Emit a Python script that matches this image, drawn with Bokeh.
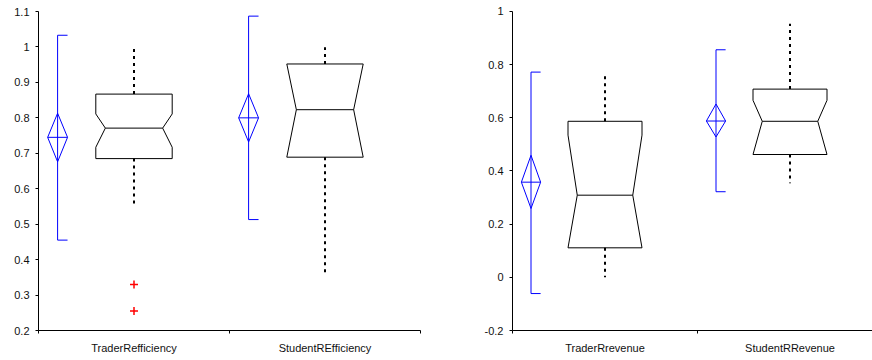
from bokeh.plotting import figure
from bokeh.layouts import row
from bokeh.models import FixedTicker, NumeralTickFormatter, Range1d
from bokeh.embed import file_html
from bokeh.resources import INLINE

# ---------------- data ----------------
eff_categories = ["TraderRefficiency", "StudentREfficiency"]
eff_q1 = [0.685, 0.689]
eff_median = [0.771, 0.823]
eff_q3 = [0.867, 0.952]
eff_notch_lo = [0.717, 0.689]
eff_notch_hi = [0.811, 0.952]
eff_whisker_lo = [0.555, 0.358]
eff_whisker_hi = [0.995, 0.999]
eff_outlier_group = [0, 0]
eff_outlier_values = [0.330, 0.255]
eff_mean = [0.745, 0.800]
eff_ci_lo = [0.676, 0.732]
eff_ci_hi = [0.813, 0.868]
eff_range_lo = [0.455, 0.513]
eff_range_hi = [1.033, 1.087]
eff_yticks = [0.2, 0.3, 0.4, 0.5, 0.6, 0.7, 0.8, 0.9, 1.0, 1.1]

rev_categories = ["TraderRrevenue", "StudentRRevenue"]
rev_q1 = [0.111, 0.462]
rev_median = [0.309, 0.587]
rev_q3 = [0.587, 0.708]
rev_notch_lo = [0.111, 0.462]
rev_notch_hi = [0.535, 0.666]
rev_whisker_lo = [0.0, 0.354]
rev_whisker_hi = [0.759, 0.954]
rev_outlier_group = []
rev_outlier_values = []
rev_mean = [0.358, 0.588]
rev_ci_lo = [0.259, 0.528]
rev_ci_hi = [0.459, 0.652]
rev_range_lo = [-0.061, 0.322]
rev_range_hi = [0.772, 0.856]
rev_yticks = [-0.2, 0.0, 0.2, 0.4, 0.6, 0.8, 1.0]

FONT = "Liberation Sans"
BLUE = "#0000ff"
BOX_HALF = 0.2
NOTCH_IN = 0.05
DIA_HALF = 0.052
CI_OFFSET = -0.40


def make_panel(cats, q1, med, q3, nlo, nhi, wlo, whi, og, ov, mean, cilo, cihi,
               rlo, rhi, yticks, yrange, xend, width, bl, br):
    p = figure(width=width, height=360, output_backend="svg", toolbar_location=None,
               x_range=Range1d(0, xend), y_range=Range1d(*yrange),
               min_border_left=bl, min_border_right=br,
               min_border_top=4, min_border_bottom=30)
    p.outline_line_color = None
    p.xgrid.visible = False
    p.ygrid.visible = False
    p.background_fill_color = "white"
    p.border_fill_color = "white"

    n = len(cats)
    centers = [i + 0.5 for i in range(n)]

    # notched boxes
    bx, by = [], []
    for c, a, m, b, lo, hi in zip(centers, q1, med, q3, nlo, nhi):
        L, R = c - BOX_HALF, c + BOX_HALF
        bx.append([L, R, R, R - NOTCH_IN, R, R, L, L, L + NOTCH_IN, L])
        by.append([b, b, hi, m, lo, a, a, lo, m, hi])
    p.patches(bx, by, fill_color=None, line_color="black", line_width=1)
    p.segment([c - BOX_HALF + NOTCH_IN for c in centers], med,
              [c + BOX_HALF - NOTCH_IN for c in centers], med,
              line_color="black", line_width=1)
    # dotted whiskers
    p.segment(centers, q3, centers, whi, line_color="black", line_width=2,
              line_dash="3 4")
    p.segment(centers, q1, centers, wlo, line_color="black", line_width=2,
              line_dash="3 4")
    # outliers
    if ov:
        p.scatter([centers[g] for g in og], ov, marker="cross", size=8,
                  line_color="#ff0000", line_width=1.5)

    # blue mean / CI diamonds with range lines
    xs = [c + CI_OFFSET for c in centers]
    p.segment(xs, rlo, xs, rhi, line_color=BLUE, line_width=1)
    p.segment(xs, rhi, [x + DIA_HALF for x in xs], rhi, line_color=BLUE, line_width=1)
    p.segment(xs, rlo, [x + DIA_HALF for x in xs], rlo, line_color=BLUE, line_width=1)
    dx = [[x - DIA_HALF, x, x + DIA_HALF, x] for x in xs]
    dy = [[m, hi, m, lo] for m, hi, lo in zip(mean, cihi, cilo)]
    p.patches(dx, dy, fill_color=None, line_color=BLUE, line_width=1)
    p.segment([x - DIA_HALF for x in xs], mean, [x + DIA_HALF for x in xs], mean,
              line_color=BLUE, line_width=1)

    # axes
    xa = p.xaxis[0]
    xa.ticker = FixedTicker(ticks=centers, minor_ticks=list(range(n + 1)))
    xa.major_label_overrides = {c: cat for c, cat in zip(centers, cats)}
    xa.major_tick_out = 0
    xa.major_tick_in = 0
    xa.minor_tick_out = 3
    xa.minor_tick_in = 0
    xa.major_label_standoff = 8
    ya = p.yaxis[0]
    ya.ticker = FixedTicker(ticks=yticks)
    ya.bounds = (yticks[0], yticks[-1])
    ya.formatter = NumeralTickFormatter(format="0.[0]")
    ya.major_tick_out = 3
    ya.major_tick_in = 0
    ya.minor_tick_out = 0
    ya.minor_tick_in = 0
    ya.major_label_standoff = 6
    for ax in (xa, ya):
        ax.axis_line_color = "black"
        ax.axis_line_width = 1
        ax.major_tick_line_color = "black"
        ax.minor_tick_line_color = "black"
        ax.major_label_text_font = FONT
        ax.major_label_text_font_size = "11px"
        ax.major_label_text_color = "#111111"
    return p


p1 = make_panel(eff_categories, eff_q1, eff_median, eff_q3, eff_notch_lo, eff_notch_hi,
                eff_whisker_lo, eff_whisker_hi, eff_outlier_group, eff_outlier_values,
                eff_mean, eff_ci_lo, eff_ci_hi, eff_range_lo, eff_range_hi,
                eff_yticks, (0.2, 1.1198), 2.0, 448, 38, 28)
p2 = make_panel(rev_categories, rev_q1, rev_median, rev_q3, rev_notch_lo, rev_notch_hi,
                rev_whisker_lo, rev_whisker_hi, rev_outlier_group, rev_outlier_values,
                rev_mean, rev_ci_lo, rev_ci_hi, rev_range_lo, rev_range_hi,
                rev_yticks, (-0.2, 1.0263), 360 / 185, 424, 64, 0)

layout = row(p1, p2)
open("out.html", "w").write(file_html(layout, INLINE))
